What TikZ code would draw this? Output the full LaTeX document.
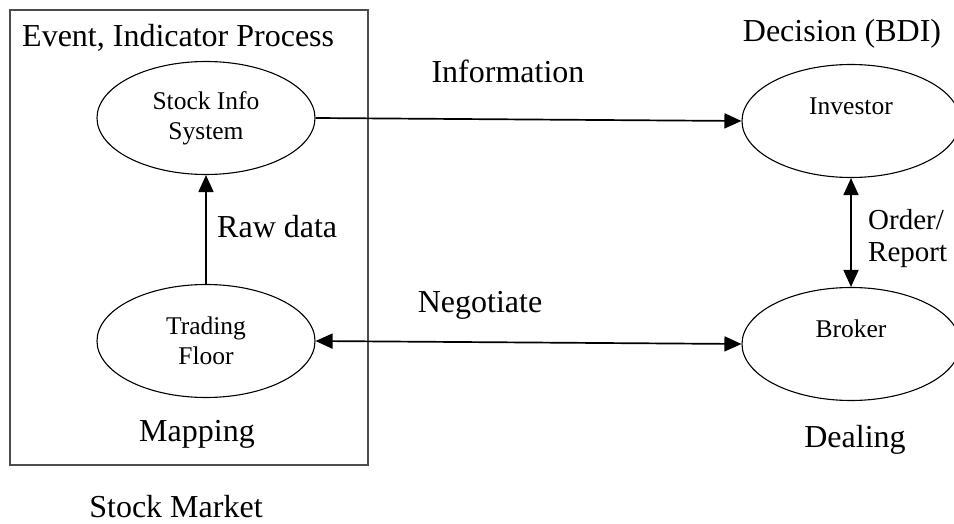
\documentclass[tikz,border=0pt]{standalone}
\usepackage{fontspec}
\setmainfont{Liberation Serif}
\usetikzlibrary{arrows.meta}
\usetikzlibrary{shapes.geometric}
\tikzset{
	stage/.style = {draw, ellipse, line width=1.1bp, minimum width=218bp, minimum height=113bp, align=center, inner sep=0, font=\fontsize{25.5bp}{30bp}\selectfont},
	tag/.style = {inner sep=0, font=\fontsize{32bp}{32bp}\selectfont},
	flow/.style = {line width=1.7bp, -{Triangle[length=17bp, width=15bp]}},
	twoway/.style = {line width=1.7bp, {Triangle[length=17bp, width=15bp]}-{Triangle[length=17bp, width=15bp]}}
}

\begin{document}
\begin{tikzpicture}[x=1bp, y=-1bp]
		\useasboundingbox (0,0) rectangle (954,524);
		\node (market)[draw=black!70, line width=1.5bp, minimum width=358bp, minimum height=455bp, inner sep=0] at (189,237.5){};
		\node (head)[tag, anchor = base west] at (22,47){Event, Indicator Process};
		%
		\node (info)[stage] at (206,118){Stock Info\\System};
		\node (floor)[stage] at (206,341){Trading\\Floor};
		\node (investor)[stage] at (851,121){Investor\\\mbox{}};
		\node (broker)[stage] at (851,344){Broker\\\mbox{}};
		%
		\draw[flow] (floor.north) -- (info.south);
		\draw[flow] (info.east) -- (investor.west);
		\draw[twoway] (floor.east) -- (broker.west);
		\draw[twoway] (investor.south) -- (broker.north);
		%
		\node (bdi)[tag, anchor = base] at (842,42){Decision (BDI)};
		\node (infotag)[tag, anchor = base] at (508,83){Information};
		\node (raw)[tag, anchor = base west] at (217,238){Raw data};
		\node (nego)[tag, anchor = base] at (480,313){Negotiate};
		\node (order)[tag, font=\fontsize{29bp}{32bp}\selectfont, align = left, anchor = west] at (868,239){Order/\\Report};
		\node (mapping)[tag, anchor = base] at (197,441){Mapping};
		\node (dealing)[tag, anchor = base] at (855,447){Dealing};
		\node (title)[tag, anchor = base] at (176,517){Stock Market};
	\end{tikzpicture}
\end{document}
